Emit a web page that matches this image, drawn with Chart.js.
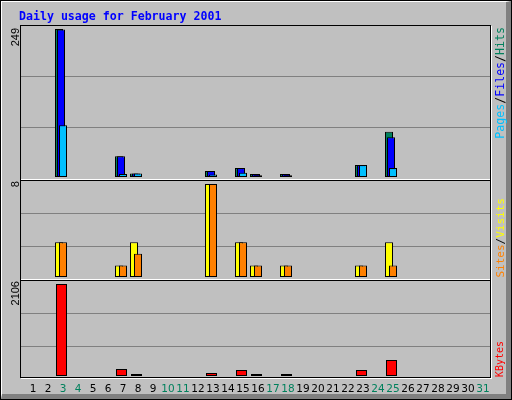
<!DOCTYPE html>
<html>
<head>
<meta charset="utf-8">
<title>Daily usage for February 2001</title>
<script src="https://cdn.jsdelivr.net/npm/chart.js@4.4.1/dist/chart.umd.min.js"></script>
<style>
  html, body { margin: 0; padding: 0; background: #fff; }
  #graph { position: relative; width: 512px; height: 400px; background: #c0c0c0; overflow: hidden; }
  #graph canvas { position: absolute; left: 0; top: 0; }
  .edge { position: absolute; box-sizing: border-box; }
  #outer { left: 0; top: 0; width: 512px; height: 400px; border: 1px solid #000; }
  #bevel { left: 1px; top: 1px; width: 510px; height: 398px; border-style: solid; border-width: 1px 5px 5px 1px; border-color: #fff #808080 #808080 #fff; }
  #plot { left: 20px; top: 25px; width: 471px; height: 353px; border: 1px solid #000; box-shadow: 1px 1px 0 #fff; }
  .split { left: 21px; width: 469px; height: 1px; background: #000; box-shadow: 0 -1px 0 #fff; }
  .txt { position: absolute; white-space: nowrap; line-height: 12px; }
  #title { left: 19px; top: 9px; font: bold 11.6px "DejaVu Sans Mono"; color: #0000ff; }
  .up { transform-origin: 100% 0; transform: rotate(-90deg); }
  .max { right: 503px; font: 11px "Liberation Sans"; color: #000; }
  .key { right: 18px; font-family: "DejaVu Sans Mono"; color: #000; }
</style>
</head>
<body>
<div id="graph">
  <canvas id="usage" width="512" height="400"></canvas>
  <canvas id="visits" width="512" height="400"></canvas>
  <canvas id="kbytes" width="512" height="400"></canvas>

  <div class="edge" id="outer"></div>
  <div class="edge" id="bevel"></div>
  <div class="edge" id="plot"></div>
  <div class="edge split" style="top:180px"></div>
  <div class="edge split" style="top:280px"></div>

  <div class="txt" id="title">Daily usage for February 2001</div>

  <div class="txt up max" id="maxHits" style="top:28px"></div>
  <div class="txt up max" id="maxVisits" style="top:181px"></div>
  <div class="txt up max" id="maxKbytes" style="top:281px"></div>

  <div class="txt up key" style="top:26.5px;font-size:11.6px"><span style="color:#00c0ff">Pages</span>/<span style="color:#0000ff">Files</span>/<span style="color:#00805c">Hits</span></div>
  <div class="txt up key" style="top:197.5px;font-size:11px"><span style="color:#ff8000">Sites</span>/<span style="color:#ffff00">Visits</span></div>
  <div class="txt up key" style="top:341px;font-size:10px"><span style="color:#ff0000">KBytes</span></div>
</div>

<script>
const days = [1, 2, 3, 4, 5, 6, 7, 8, 9, 10, 11, 12, 13, 14, 15, 16, 17, 18, 19, 20, 21, 22, 23, 24, 25, 26, 27, 28, 29, 30, 31];
const weekendDays = [3, 4, 10, 11, 17, 18, 24, 25, 31];

const hits   = [0, 0, 249, 0, 0, 0, 35, 6, 0, 0, 0, 0, 10, 0, 15, 5, 0, 5, 0, 0, 0, 0, 20, 0, 76, 0, 0, 0, 0, 0, 0];
const files  = [0, 0, 248, 0, 0, 0, 35, 6, 0, 0, 0, 0, 10, 0, 15, 5, 0, 5, 0, 0, 0, 0, 20, 0, 67, 0, 0, 0, 0, 0, 0];
const pages  = [0, 0, 87, 0, 0, 0, 5, 6, 0, 0, 0, 0, 4, 0, 7, 3, 0, 3, 0, 0, 0, 0, 20, 0, 15, 0, 0, 0, 0, 0, 0];
const visits = [0, 0, 3, 0, 0, 0, 1, 3, 0, 0, 0, 0, 8, 0, 3, 1, 0, 1, 0, 0, 0, 0, 1, 0, 3, 0, 0, 0, 0, 0, 0];
const sites  = [0, 0, 3, 0, 0, 0, 1, 2, 0, 0, 0, 0, 8, 0, 3, 1, 0, 1, 0, 0, 0, 0, 1, 0, 1, 0, 0, 0, 0, 0, 0];
const kbytes = [0, 0, 2106, 0, 0, 0, 160, 46, 0, 0, 0, 0, 69, 0, 137, 46, 0, 46, 0, 0, 0, 0, 137, 0, 366, 0, 0, 0, 0, 0, 0];

// plot geometry (page pixels)
const AREA_LEFT = 21, AREA_RIGHT = 490, DAY_W = 15;
const GRID = "#808080";
const TOP = { top: 26, bottom: 179, base: 177, peak: 29, grid: [76, 127] };
const MID = { top: 181, bottom: 279, base: 277, peak: 184, grid: [213, 246] };
const BOT = { top: 281, bottom: 377, base: 376, peak: 284, grid: [313, 346] };

Chart.defaults.font.family = "DejaVu Sans";

// linear day axis; `center` is where day 0 would sit, so bars can overlap like webalizer draws them
function dayAxis(center, extra) {
  return Object.assign({
    type: "linear",
    axis: "x",
    display: false,
    offset: false,
    min: (AREA_LEFT - center) / DAY_W,
    max: (AREA_RIGHT - center) / DAY_W,
  }, extra);
}

function valueAxis(p, maxVal) {
  const ppu = (p.base - p.peak) / maxVal;
  return {
    type: "linear",
    position: "left",
    min: -(p.bottom - p.base) / ppu,
    max: maxVal + (p.peak - p.top) / ppu,
    grid: { color: GRID, lineWidth: 1, drawTicks: false },
    border: { display: false },
    ticks: { display: false },
    afterBuildTicks: (s) => { s.ticks = p.grid.map((r) => ({ value: (p.base - r - 0.5) / ppu })); },
    afterFit: (s) => { s.width = 0; },
  };
}

function panel(canvasId, p, maxVal, sets, extraScales, padBottom) {
  const el = document.getElementById(canvasId);
  if (!el) return;

  const scales = { y: valueAxis(p, maxVal) };
  sets.forEach((s) => { scales[s.axis] = dayAxis(s.center); });
  Object.assign(scales, extraScales || {});

  new Chart(el.getContext("2d"), {
    type: "bar",
    data: {
      datasets: sets.map((s) => ({
        label: s.label,
        data: days.map((d, i) => ({ x: d, y: s.values[i] || null })),
        xAxisID: s.axis,
        yAxisID: "y",
        backgroundColor: s.color,
        borderColor: "#000",
        borderWidth: 1,
        borderSkipped: false,
        grouped: false,
        barThickness: s.width,
        maxBarThickness: s.width,
        inflateAmount: 0,
      })),
    },
    options: {
      responsive: false,
      animation: false,
      events: [],
      layout: { padding: { left: AREA_LEFT, right: 512 - AREA_RIGHT, top: p.top, bottom: padBottom } },
      plugins: { legend: { display: false }, tooltip: { enabled: false } },
      scales,
    },
  });
}

// first dataset is drawn last (on top)
panel("usage", TOP, Math.max(...hits), [
  { label: "Pages", values: pages, color: "#00c0ff", axis: "xPages", center: 18, width: 8 },
  { label: "Files", values: files, color: "#0000ff", axis: "xFiles", center: 16, width: 8 },
  { label: "Hits", values: hits, color: "#00805c", axis: "xHits", center: 14, width: 8 },
], null, 400 - TOP.bottom);

panel("visits", MID, Math.max(...visits), [
  { label: "Sites", values: sites, color: "#ff8000", axis: "xSites", center: 18, width: 8 },
  { label: "Visits", values: visits, color: "#ffff00", axis: "xVisits", center: 14, width: 8 },
], null, 400 - MID.bottom);

panel("kbytes", BOT, Math.max(...kbytes), [
  { label: "KBytes", values: kbytes, color: "#ff0000", axis: "xKbytes", center: 16.5, width: 11 },
], {
  xDays: dayAxis(18, {
    display: true,
    position: "bottom",
    grid: { display: false, drawTicks: false },
    border: { display: false },
    afterBuildTicks: (s) => { s.ticks = days.map((d) => ({ value: d })); },
    afterFit: (s) => { s.height = 400 - BOT.bottom; },
    ticks: {
      autoSkip: false,
      maxRotation: 0,
      padding: 6,
      font: { family: "DejaVu Sans", size: 10.5 },
      color: (ctx) => (weekendDays.includes(ctx.tick.value) ? "#00805c" : "#000"),
      callback: (v) => String(v),
    },
  }),
}, 0);

document.getElementById("maxHits").textContent = Math.max(...hits);
document.getElementById("maxVisits").textContent = Math.max(...visits);
document.getElementById("maxKbytes").textContent = Math.max(...kbytes);
</script>
</body>
</html>
